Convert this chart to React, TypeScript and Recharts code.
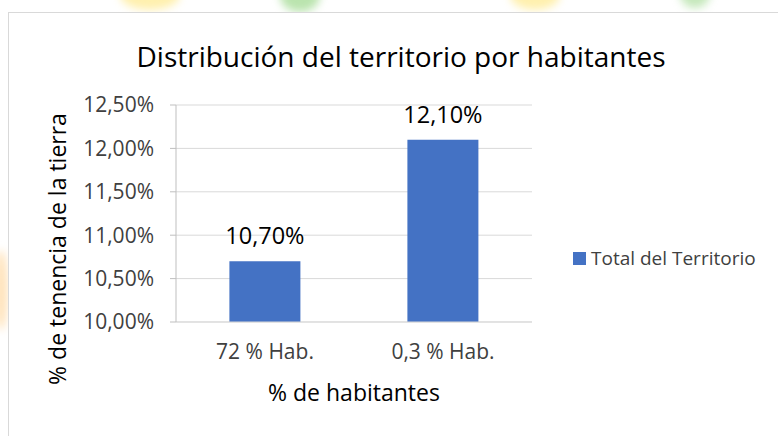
import React from "react";
import { BarChart, Bar, XAxis, YAxis, CartesianGrid, LabelList } from "recharts";

const categories = ["72 % Hab.", "0,3 % Hab."];
const territorio = [10.7, 12.1];
const yTicks = [10, 10.5, 11, 11.5, 12, 12.5];
const seriesName = "Total del Territorio";

const data = categories.map((name, i) => ({ name, total: territorio[i] }));

const FONT = "'Open Sans', 'Noto Sans', sans-serif";
const BLUE = "#4472C4";

function fmtPct(v: number): string {
  return v.toFixed(2).replace(".", ",") + "%";
}

// faint background watermark blobs around the chart frame
const blobs = [
  { left: 120, top: -20, w: 60, h: 30, c: "rgba(255,230,120,0.6)" },
  { left: 280, top: -20, w: 40, h: 32, c: "rgba(140,210,120,0.6)" },
  { left: 510, top: -20, w: 50, h: 30, c: "rgba(255,230,120,0.6)" },
  { left: 680, top: -20, w: 30, h: 28, c: "rgba(140,210,120,0.5)" },
  { left: -6, top: 250, w: 14, h: 80, c: "rgba(255,200,120,0.5)" },
];

export default function App() {
  return (
    <div style={{ position: "fixed", left: 0, top: 0, width: 778, height: 436, background: "#fff", overflow: "hidden" }}>
      {blobs.map((b, i) => (
        <div key={i} style={{ position: "absolute", left: b.left, top: b.top, width: b.w, height: b.h, background: b.c, borderRadius: "50%", filter: "blur(4px)" }} />
      ))}
      <div style={{ position: "absolute", left: 8, top: 12, width: 790, height: 440, border: "1px solid #D9D9D9", background: "#fff" }} />
      <div style={{ position: "absolute", left: 0, top: 0 }}>
        <BarChart
          width={778}
          height={436}
          data={data}
          margin={{ top: 105, right: 246, bottom: 34, left: 0 }}
          barCategoryGap="30%"
        >
          <CartesianGrid vertical={false} stroke="#D9D9D9" strokeWidth={1} />
          <XAxis
            dataKey="name"
            height={80}
            interval={0}
            tickLine={false}
            axisLine={{ stroke: "#D9D9D9" }}
            tick={{ fill: "#404040", fontSize: 21, fontFamily: FONT }}
            tickMargin={16}
          />
          <YAxis
            width={176}
            domain={[10, 12.5]}
            ticks={yTicks}
            tickFormatter={fmtPct}
            axisLine={{ stroke: "#BFBFBF" }}
            tickLine={{ stroke: "#BFBFBF" }}
            tickSize={6}
            tickMargin={16}
            tick={{ fill: "#404040", fontSize: 21, fontFamily: FONT }}
            interval={0}
          />
          <Bar dataKey="total" name={seriesName} fill={BLUE} isAnimationActive={false}>
            <LabelList
              dataKey="total"
              position="top"
              offset={17}
              formatter={(v: number) => fmtPct(v)}
              style={{ fill: "#000", fontSize: 23.5, fontFamily: FONT }}
            />
          </Bar>
        </BarChart>
      </div>
      <div style={{ position: "absolute", left: 573, top: 244, display: "flex", alignItems: "center", fontFamily: FONT, fontSize: 19, color: "#404040", lineHeight: "28px" }}>
        <span style={{ width: 13, height: 13, background: BLUE, display: "inline-block", marginRight: 5 }} />
        <span>{seriesName}</span>
      </div>
      <div style={{ position: "absolute", left: 0, width: 802, top: 37, textAlign: "center", fontFamily: FONT, fontSize: 28, color: "#000", lineHeight: "38px" }}>
        Distribución del territorio por habitantes
      </div>
      <div style={{ position: "absolute", left: 204, width: 300, top: 377, textAlign: "center", fontFamily: FONT, fontSize: 23, color: "#000", lineHeight: "30px" }}>
        % de habitantes
      </div>
      <div
        style={{
          position: "absolute",
          left: 57 - 160,
          top: 249 - 15,
          width: 320,
          lineHeight: "30px",
          textAlign: "center",
          transform: "rotate(-90deg)",
          fontFamily: FONT,
          fontSize: 23,
          color: "#000",
        }}
      >
        % de tenencia de la tierra
      </div>
    </div>
  );
}
